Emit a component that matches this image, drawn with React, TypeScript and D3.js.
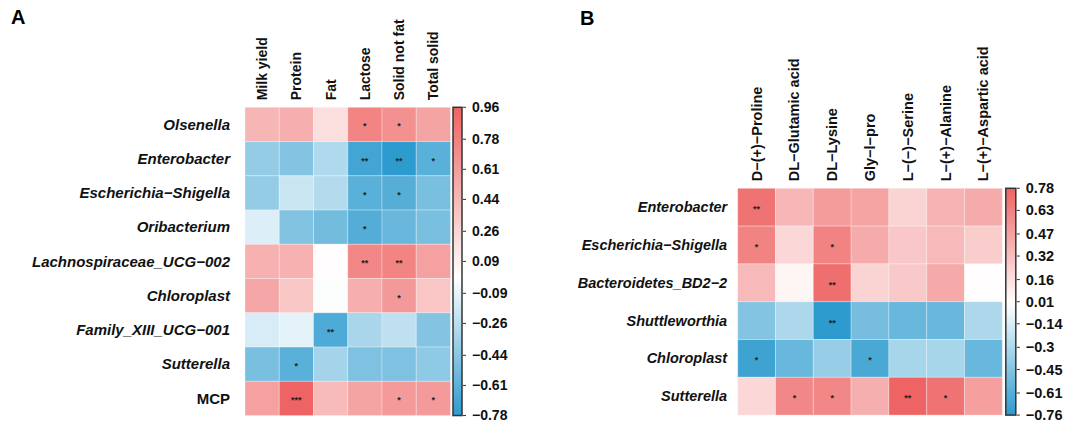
import * as d3 from "d3";

// panel A: milk traits
const colsA = ["Milk yield", "Protein", "Fat", "Lactose", "Solid not fat", "Total solid"];
const rowsA = ["Olsenella", "Enterobacter", "Escherichia−Shigella", "Oribacterium", "Lachnospiraceae_UCG−002", "Chloroplast", "Family_XIII_UCG−001", "Sutterella", "MCP"];
const valsA = [
  [0.45, 0.5, 0.2, 0.76, 0.68, 0.56],
  [-0.4, -0.46, -0.3, -0.7, -0.78, -0.62],
  [-0.4, -0.2, -0.28, -0.62, -0.63, -0.5],
  [-0.13, -0.47, -0.52, -0.64, -0.56, -0.5],
  [0.48, 0.48, 0.01, 0.74, 0.76, 0.58],
  [0.55, 0.35, -0.01, 0.5, 0.63, 0.36],
  [-0.15, -0.1, -0.66, -0.32, -0.24, -0.46],
  [-0.5, -0.62, -0.34, -0.48, -0.48, -0.42],
  [0.58, 0.96, 0.42, 0.56, 0.62, 0.62],
];
const sigA = [
  ["", "", "", "*", "*", ""],
  ["", "", "", "**", "**", "*"],
  ["", "", "", "*", "*", ""],
  ["", "", "", "*", "", ""],
  ["", "", "", "**", "**", ""],
  ["", "", "", "", "*", ""],
  ["", "", "**", "", "", ""],
  ["", "*", "", "", "", ""],
  ["", "***", "", "", "*", "*"],
];
const ticksA = [0.96, 0.78, 0.61, 0.44, 0.26, 0.09, -0.09, -0.26, -0.44, -0.61, -0.78];

// panel B: amino acids
const colsB = ["D−(+)−Proline", "DL−Glutamic acid", "DL−Lysine", "Gly−l−pro", "L−(−)−Serine", "L−(+)−Alanine", "L−(+)−Aspartic acid"];
const rowsB = ["Enterobacter", "Escherichia−Shigella", "Bacteroidetes_BD2−2", "Shuttleworthia", "Chloroplast", "Sutterella"];
const valsB = [
  [0.7, 0.36, 0.5, 0.46, 0.22, 0.38, 0.42],
  [0.62, 0.2, 0.62, 0.42, 0.28, 0.35, 0.25],
  [0.35, 0.05, 0.72, 0.22, 0.27, 0.43, 0.01],
  [-0.45, -0.3, -0.76, -0.5, -0.55, -0.55, -0.3],
  [-0.7, -0.55, -0.38, -0.66, -0.32, -0.32, -0.55],
  [0.2, 0.6, 0.6, 0.4, 0.78, 0.7, 0.48],
];
const sigB = [
  ["**", "", "", "", "", "", ""],
  ["*", "", "*", "", "", "", ""],
  ["", "", "**", "", "", "", ""],
  ["", "", "**", "", "", "", ""],
  ["*", "", "", "*", "", "", ""],
  ["", "*", "*", "", "**", "*", ""],
];
const ticksB = [0.78, 0.63, 0.47, 0.32, 0.16, 0.01, -0.14, -0.3, -0.45, -0.61, -0.76];

const RED = "#EE6363";
const BLUE = "#2E9BCE";
const FONT = "'Liberation Sans', Arial, sans-serif";

type HeatProps = {
  id: string;
  left: number;
  top: number;
  cell: number;
  rows: string[];
  cols: string[];
  vals: number[][];
  sig: string[][];
  ticks: number[];
  rowSize: number;
  colSize: number;
  tickSize: number;
  barW: number;
  barGap: number;
  labelGap: number;
};

function Heatmap(p: HeatProps) {
  const min = p.ticks[p.ticks.length - 1];
  const max = p.ticks[0];
  const x = d3.scaleBand().domain(p.cols).range([p.left, p.left + p.cell * p.cols.length]);
  const y = d3.scaleBand().domain(p.rows).range([p.top, p.top + p.cell * p.rows.length]);
  const color = d3.scaleLinear<string>().domain([min, 0, max]).range([BLUE, "#ffffff", RED]);

  const bottom = p.top + p.cell * p.rows.length;
  const barX = p.left + p.cell * p.cols.length + p.barGap;
  const yBar = d3.scaleLinear().domain([min, max]).range([bottom, p.top]);
  const stops = d3.range(0, 1.0001, 0.05);

  return (
    <g fontFamily={FONT}>
      <defs>
        <linearGradient id={p.id} x1="0" y1="1" x2="0" y2="0">
          {stops.map((t) => (
            <stop key={t} offset={t} stopColor={color(min + t * (max - min))} />
          ))}
        </linearGradient>
      </defs>

      {p.vals.map((row, i) =>
        row.map((v, j) => (
          <rect
            key={`${i}-${j}`}
            x={x(p.cols[j])}
            y={y(p.rows[i])}
            width={x.bandwidth()}
            height={y.bandwidth()}
            fill={color(v)}
            stroke="#ffffff"
            strokeOpacity={0.3}
            strokeWidth={1}
          />
        ))
      )}

      {p.sig.map((row, i) =>
        row.map((s, j) =>
          s ? (
            <text
              key={`s${i}-${j}`}
              x={x(p.cols[j])! + x.bandwidth() / 2}
              y={y(p.rows[i])! + y.bandwidth() / 2 + 5}
              textAnchor="middle"
              fontSize={9}
              fontWeight="bold"
              fill="#222"
            >
              {s}
            </text>
          ) : null
        )
      )}

      {p.rows.map((r) => (
        <text
          key={r}
          x={p.left - p.labelGap}
          y={y(r)! + y.bandwidth() / 2}
          dy="0.35em"
          textAnchor="end"
          fontSize={p.rowSize}
          fontWeight="bold"
          fontStyle={r === "MCP" ? "normal" : "italic"}
          fill="#111"
        >
          {r}
        </text>
      ))}

      {p.cols.map((c) => {
        const cx = x(c)! + x.bandwidth() / 2;
        const cy = p.top - 7;
        return (
          <text
            key={c}
            transform={`translate(${cx},${cy}) rotate(-90)`}
            dy="0.35em"
            textAnchor="start"
            fontSize={p.colSize}
            fontWeight="bold"
            fill="#111"
          >
            {c}
          </text>
        );
      })}

      <rect
        x={barX}
        y={p.top}
        width={p.barW}
        height={bottom - p.top}
        fill={`url(#${p.id})`}
        stroke="#333"
        strokeWidth={1.5}
      />
      {p.ticks.map((t) => (
        <g key={t} transform={`translate(${barX + p.barW},${yBar(t)})`}>
          <line x1={1} x2={4} stroke="#333" strokeWidth={1} />
          <text x={10} dy="0.35em" fontSize={p.tickSize} fontWeight="bold" fill="#111">
            {String(t).replace("-", "−")}
          </text>
        </g>
      ))}
    </g>
  );
}

export default function App() {
  return (
    <svg
      width={1069}
      height={422}
      viewBox="0 0 1069 422"
      style={{ position: "absolute", left: 0, top: 0, background: "#fff" }}
    >
      <text x={11} y={24} fontFamily={FONT} fontSize={20} fontWeight="bold">A</text>
      <text x={580} y={25} fontFamily={FONT} fontSize={20} fontWeight="bold">B</text>
      <Heatmap
        id="gradA"
        left={245}
        top={107.3}
        cell={34.25}
        rows={rowsA}
        cols={colsA}
        vals={valsA}
        sig={sigA}
        ticks={ticksA}
        rowSize={15}
        colSize={14}
        tickSize={14}
        barW={9}
        barGap={2.5}
        labelGap={15}
      />
      <Heatmap
        id="gradB"
        left={737.7}
        top={188.3}
        cell={37.8}
        rows={rowsB}
        cols={colsB}
        vals={valsB}
        sig={sigB}
        ticks={ticksB}
        rowSize={14.5}
        colSize={14.5}
        tickSize={14.5}
        barW={10}
        barGap={3.5}
        labelGap={10.5}
      />
    </svg>
  );
}
